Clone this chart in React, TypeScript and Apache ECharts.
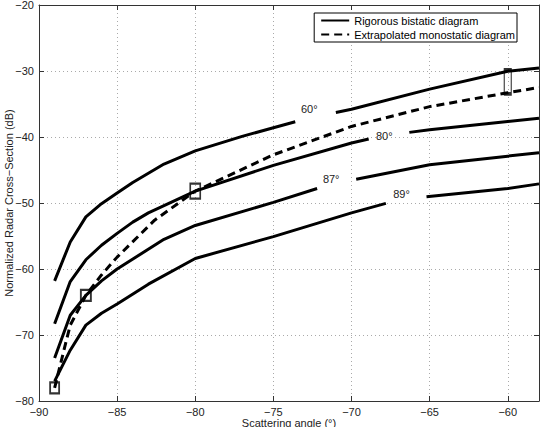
import React, { useEffect, useRef } from "react";
import * as echarts from "echarts";

// Rigorous bistatic curves (split where the contour labels sit)
const curve60a = [[-89, -61.8], [-88, -55.9], [-87, -52.1], [-86, -50.1], [-85, -48.5], [-84, -46.9], [-82, -44.1], [-80, -42.1], [-77, -39.9], [-75, -38.6], [-73.6, -37.7]];
const curve60b = [[-71, -36.3], [-70, -35.8], [-65, -32.75], [-60, -30.05], [-58, -29.55]];
const curve80a = [[-89, -68.3], [-88, -61.9], [-87, -58.6], [-86, -56.4], [-85, -54.6], [-84, -52.9], [-83, -51.5], [-80, -48.2], [-75, -44.3], [-70, -40.9], [-68.9, -40.3]];
const curve80b = [[-66.3, -39.3], [-65, -38.9], [-60, -37.65], [-58, -37.15]];
const curve87a = [[-89, -73.5], [-88, -67.0], [-87, -64.0], [-86, -61.8], [-85, -60.0], [-82, -55.5], [-80, -53.4], [-75, -49.9], [-72.2, -47.8]];
const curve87b = [[-69.7, -46.4], [-65, -44.2], [-60, -42.9], [-58, -42.4]];
const curve89a = [[-89, -77.0], [-88, -72.3], [-87, -68.5], [-86, -66.7], [-85, -65.3], [-83, -62.3], [-80, -58.4], [-75, -55.1], [-70, -51.5], [-67.8, -50.05]];
const curve89b = [[-65.2, -49.05], [-60, -47.8], [-58, -47.1]];

// Extrapolated monostatic curve
const monostatic = [[-89, -78.0], [-88.3, -71.3], [-88, -68.5], [-87, -64.0], [-86, -60.9], [-85, -58.2], [-82.6, -52.6], [-80, -48.2], [-78, -46.0], [-75, -42.7], [-70, -38.4], [-65, -35.4], [-60, -33.3], [-58, -32.5]];

// Rectangular markers: [x, y] and their box sizes [w, h]
const boxPoints = [[-89, -78.0], [-87, -64.0], [-80, -48.2], [-60, -31.65]];
const boxSizes = [[9, 11], [10, 11], [10, 15], [7, 24]];

// Contour labels: [x, y, text]
const curveLabels: [number, number, string][] = [[-72.7, -35.8, "60°"], [-67.9, -39.8, "80°"], [-71.3, -46.4, "87°"], [-66.8, -48.7, "89°"]];

const FONT = "'Liberation Sans', Arial, Helvetica, sans-serif";
const SOLID = "Rigorous bistatic diagram";
const DASHED = "Extrapolated monostatic diagram";

const minus = (v: number) => String(v).replace("-", "\u2212");

export default function App() {
  const ref = useRef<HTMLDivElement>(null);
  useEffect(() => {
    if (!ref.current) return;
    const chart = echarts.init(ref.current, null, { renderer: "svg" });
    const solidSegs = [curve60a, curve60b, curve80a, curve80b, curve87a, curve87b, curve89a, curve89b];
    const axisCommon = {
      type: "value" as const,
      axisLine: { show: true, onZero: false, lineStyle: { color: "#333", width: 1 } },
      axisTick: { show: true, inside: true, length: 5, lineStyle: { color: "#333" } },
    };
    const option: any = {
      animation: false,
      backgroundColor: "#fff",
      textStyle: { fontFamily: FONT },
      grid: { left: 39, right: 4, top: 5, bottom: 26, containLabel: false, outerBoundsMode: "none" },
      legend: {
        data: [SOLID, DASHED],
        orient: "vertical",
        right: 26,
        top: 13,
        itemWidth: 28,
        itemHeight: 10,
        itemGap: 3,
        padding: [2, 2, 2, 6],
        borderColor: "#000",
        borderWidth: 1,
        backgroundColor: "#fff",
        itemStyle: { opacity: 0 },
        textStyle: { fontSize: 11, color: "#000", fontFamily: FONT },
      },
      xAxis: [
        {
          ...axisCommon,
          position: "bottom",
          min: -90,
          max: -58,
          interval: 5,
          axisLabel: { formatter: minus, fontSize: 11, color: "#222", margin: 5, showMaxLabel: false, fontFamily: FONT },
          splitLine: { show: true, lineStyle: { color: "#aaa", type: [1, 3], width: 1 } },
          name: "Scattering angle (°)",
          nameLocation: "middle",
          nameGap: 16,
          nameMoveOverlap: false,
          nameTextStyle: { fontSize: 11, color: "#222", fontFamily: FONT },
        },
        {
          ...axisCommon,
          position: "top",
          min: -90,
          max: -58,
          interval: 5,
          axisLabel: { show: false },
          splitLine: { show: false },
        },
      ],
      yAxis: [
        {
          ...axisCommon,
          position: "left",
          min: -80,
          max: -20,
          interval: 10,
          axisLabel: { formatter: minus, fontSize: 11, color: "#222", margin: 5, fontFamily: FONT },
          splitLine: { show: true, lineStyle: { color: "#aaa", type: [1, 3], width: 1 } },
          name: "Normalized Radar Cross\u2212Section (dB)",
          nameLocation: "middle",
          nameGap: 25,
          nameMoveOverlap: false,
          nameTextStyle: { fontSize: 11, color: "#222", fontFamily: FONT },
        },
        {
          ...axisCommon,
          position: "right",
          min: -80,
          max: -20,
          interval: 10,
          axisLabel: { show: false },
          splitLine: { show: false },
        },
      ],
      series: [
        ...solidSegs.map((seg) => ({
          name: SOLID,
          type: "line",
          data: seg,
          showSymbol: false,
          symbol: "none",
          lineStyle: { color: "#000", width: 3, type: "solid" },
          itemStyle: { color: "#000" },
          z: 3,
        })),
        {
          name: DASHED,
          type: "line",
          data: monostatic,
          showSymbol: false,
          symbol: "none",
          lineStyle: { color: "#000", width: 3, type: [8, 5] },
          itemStyle: { color: "#000" },
          z: 3,
        },
        {
          name: "boxes",
          type: "scatter",
          data: boxPoints.map((p, i) => ({ value: p, symbolSize: boxSizes[i] })),
          symbol: "rect",
          itemStyle: { color: "rgba(255,255,255,0)", borderColor: "#000", borderWidth: 2 },
          z: 5,
        },
      ],
    };
    chart.setOption(option);
    // Place the contour labels through the chart's own coordinate system
    const texts = curveLabels.map(([x, y, t]) => {
      const [px, py] = chart.convertToPixel({ xAxisIndex: 0, yAxisIndex: 0 }, [x, y]) as number[];
      return {
        type: "text",
        x: px,
        y: py,
        z: 10,
        style: { text: t, fill: "#222", font: `11px ${FONT}`, align: "center", verticalAlign: "middle" },
      };
    });
    chart.setOption({ graphic: texts });
    return () => chart.dispose();
  }, []);
  return <div ref={ref} style={{ position: "fixed", left: 0, top: 0, width: 543, height: 427 }} />;
}
